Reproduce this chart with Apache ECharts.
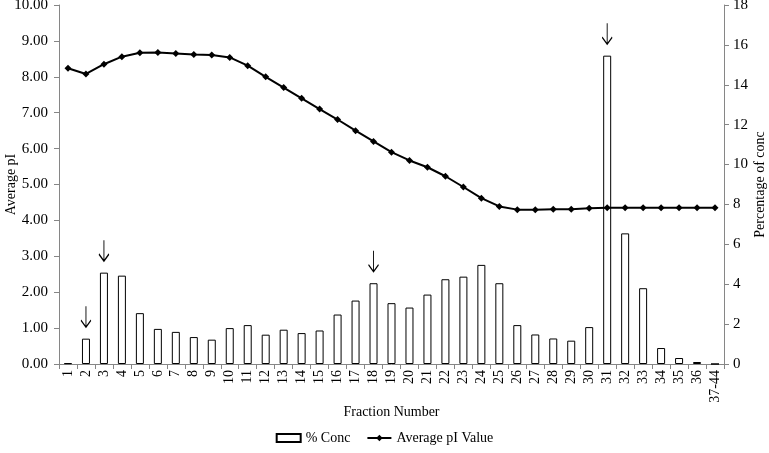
<!DOCTYPE html>
<html>
<head>
<meta charset="utf-8">
<script src="https://cdn.jsdelivr.net/npm/echarts@6/dist/echarts.min.js"></script>
<style>html,body{margin:0;padding:0;background:#fff}#c{width:769px;height:453px}</style>
</head>
<body>
<div id="c"></div>
<script>
var categories = ['1','2','3','4','5','6','7','8','9','10','11','12','13','14','15','16','17','18','19','20','21','22','23','24','25','26','27','28','29','30','31','32','33','34','35','36','37-44'];
var concPct = [0.04,1.27,4.58,4.43,2.55,1.76,1.61,1.35,1.22,1.80,1.95,1.47,1.72,1.55,1.68,2.48,3.18,4.05,3.05,2.83,3.48,4.25,4.38,4.97,4.05,1.95,1.48,1.28,1.17,1.85,15.46,6.55,3.80,0.80,0.30,0.10,0];
var avgPI = [8.24,8.08,8.35,8.56,8.67,8.68,8.65,8.62,8.61,8.54,8.31,8.00,7.70,7.40,7.10,6.81,6.50,6.20,5.90,5.67,5.48,5.23,4.93,4.62,4.39,4.30,4.30,4.31,4.31,4.34,4.35,4.35,4.35,4.35,4.35,4.35,4.35];
var arrowCats = ['2','3','18','31'];
var leftTicks = {min:0, max:10, interval:1};
var rightTicks = {min:0, max:18, interval:2};

var FONT = 'Liberation Serif';
var axisGray = '#868686';
var chart = echarts.init(document.getElementById('c'), null, {renderer:'canvas'});
var arrowPoints = arrowCats.map(function(c){
  return {coord:[c, concPct[categories.indexOf(c)]]};
});
chart.setOption({
  animation:false,
  textStyle:{fontFamily:FONT},
  grid:{left:59, right:45, top:5, bottom:89, containLabel:false, outerBoundsMode:'none'},
  legend:{
    bottom:3, left:'center', itemWidth:24, itemHeight:8, itemGap:16,
    textStyle:{fontFamily:FONT, fontSize:14, color:'#000'},
    data:[{name:'% Conc', icon:'rect'},{name:'Average pI Value'}]
  },
  xAxis:{
    type:'category', data:categories, boundaryGap:true,
    name:'Fraction Number', nameLocation:'middle', nameGap:41, nameMoveOverlap:false,
    nameTextStyle:{fontFamily:FONT, fontSize:14, color:'#000'},
    axisLine:{lineStyle:{color:axisGray, width:1}},
    axisTick:{show:true, alignWithLabel:false, length:5, lineStyle:{color:axisGray}},
    axisLabel:{rotate:90, interval:0, fontFamily:FONT, fontSize:14, color:'#000', margin:6}
  },
  yAxis:[{
    type:'value', min:leftTicks.min, max:leftTicks.max, interval:leftTicks.interval,
    name:'Average pI', nameLocation:'middle', nameGap:41, nameRotate:90, nameMoveOverlap:false,
    nameTextStyle:{fontFamily:FONT, fontSize:14, color:'#000'},
    axisLine:{show:true, lineStyle:{color:axisGray}},
    axisTick:{show:true, length:5, lineStyle:{color:axisGray}},
    splitLine:{show:false},
    axisLabel:{fontFamily:FONT, fontSize:15, color:'#000', margin:11,
      formatter:function(v){return v.toFixed(2);}}
  },{
    type:'value', position:'right', min:rightTicks.min, max:rightTicks.max, interval:rightTicks.interval,
    name:'Percentage of conc', nameLocation:'middle', nameGap:29, nameRotate:90, nameMoveOverlap:false,
    nameTextStyle:{fontFamily:FONT, fontSize:14, color:'#000'},
    axisLine:{show:true, lineStyle:{color:axisGray}},
    axisTick:{show:true, length:5, lineStyle:{color:axisGray}},
    splitLine:{show:false},
    axisLabel:{fontFamily:FONT, fontSize:15, color:'#000', margin:9}
  }],
  series:[{
    name:'% Conc', type:'bar', yAxisIndex:1, data:concPct, barWidth:8,
    itemStyle:{color:'#fff', borderColor:'#000', borderWidth:1},
    markPoint:{
      symbol:'path://M5 0 L5 24 M0.8 16 L5 24 L9.2 16',
      symbolSize:[10,21], symbolOffset:[0,-22],
      itemStyle:{color:'none', borderColor:'#000', borderWidth:1.3},
      label:{show:false},
      data:arrowPoints
    }
  },{
    name:'Average pI Value', type:'line', yAxisIndex:0, data:avgPI,
    symbol:'diamond', symbolSize:7,
    lineStyle:{color:'#000', width:2},
    itemStyle:{color:'#000'}
  }]
});
</script>
</body>
</html>
